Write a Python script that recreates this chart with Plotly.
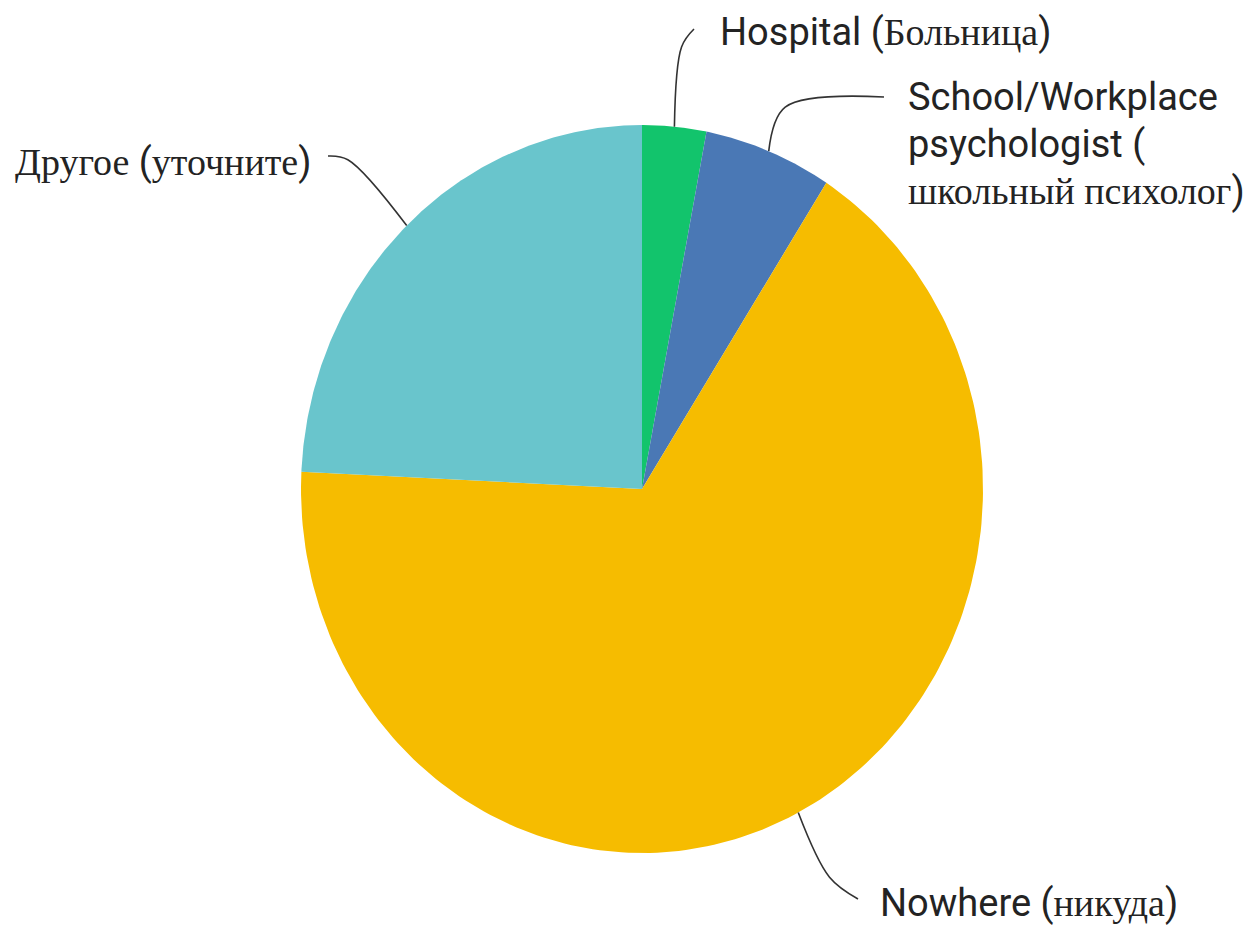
import re
import numpy as np
import plotly.graph_objects as go

# ---- data ----
categories = ["Hospital", "School/Workplace psychologist", "Nowhere", "Другое"]
values = [1, 2, 22, 8]
colors = ["#12c46c", "#4a78b5", "#f6bc00", "#69c5cc"]
label_lines = [
    ["Hospital (Больница)"],
    ["School/Workplace", "psychologist (", "школьный психолог)"],
    ["Nowhere (никуда)"],
    ["Другое (уточните)"],
]

# ---- geometry / style ----
W, H = 1252, 928
CX, CY, RX, RY = 642, 489, 341, 364
SANS = "Roboto"
SERIF = "Liberation Serif"
FS = 38
TXT = "#232323"

# label anchor (left edge px, first line centre px), connector elbow radius, end px
label_pos = [
    dict(x=718, y=32, elbow=1.22, end=(694, 29)),
    dict(x=906, y=97, elbow=1.13, end=(884, 97)),
    dict(x=878, y=903, elbow=1.20, end=(858, 899)),
    dict(x=13, y=162, elbow=1.25, end=(328, 156)),
]
line_gap = 47


def px2d(px, py):
    return (px - CX) / RX, (CY - py) / RY


def wrap_cyr(s):
    return re.sub(r"([А-Яа-яЁё][А-Яа-яЁё ]*[А-Яа-яЁё]|[А-Яа-яЁё])",
                  r'<span style="font-family:' + SERIF + r'">\1</span>', s)


fig = go.Figure()
total = sum(values)
cum = np.concatenate([[0], np.cumsum(values)]) / total * 2 * np.pi

for i, (cat, v) in enumerate(zip(categories, values)):
    th = np.linspace(cum[i], cum[i + 1], 200)
    xs = np.concatenate([[0], np.sin(th), [0]])
    ys = np.concatenate([[0], np.cos(th), [0]])
    fig.add_trace(go.Scatter(x=xs, y=ys, fill="toself", fillcolor=colors[i],
                             mode="lines", line=dict(width=0, color=colors[i]),
                             name=cat, hoverinfo="name", showlegend=False))

# connectors
for i in range(len(values)):
    mid = (cum[i] + cum[i + 1]) / 2
    lp = label_pos[i]
    x0, y0 = np.sin(mid), np.cos(mid)
    x1, y1 = lp["elbow"] * np.sin(mid), lp["elbow"] * np.cos(mid)
    x2, y2 = px2d(*lp["end"])
    fig.add_trace(go.Scatter(x=[x0, x1, x2], y=[y0, y1, y2], mode="lines",
                             line=dict(color="#333333", width=1.6, shape="spline", smoothing=1.0),
                             hoverinfo="skip", showlegend=False))

# labels
for i, lines in enumerate(label_lines):
    lp = label_pos[i]
    for j, ln in enumerate(lines):
        ax, ay = px2d(lp["x"], lp["y"] + j * line_gap)
        fig.add_annotation(x=ax, y=ay, xref="x", yref="y", text=wrap_cyr(ln),
                           showarrow=False, xanchor="left", yanchor="middle",
                           font=dict(family=SANS, size=FS, color=TXT))

fig.update_layout(
    width=W, height=H,
    margin=dict(l=0, r=0, t=0, b=0),
    paper_bgcolor="white", plot_bgcolor="white",
    xaxis=dict(range=[(0 - CX) / RX, (W - CX) / RX], visible=False, fixedrange=True),
    yaxis=dict(range=[(CY - H) / RY, CY / RY], visible=False, fixedrange=True),
    showlegend=False,
)
fig.write_html("out.html", config={"displayModeBar": False},
               post_script="document.body.style.margin='0px';document.body.style.padding='0px';")
